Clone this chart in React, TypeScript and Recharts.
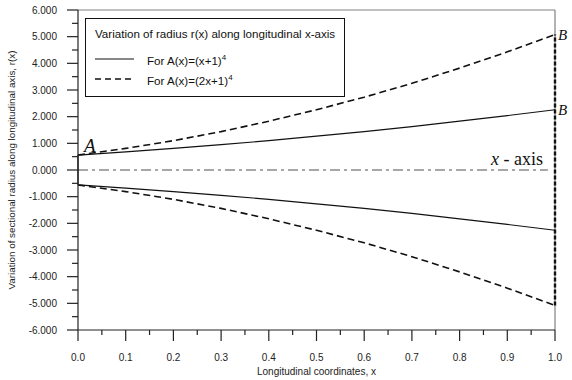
import { LineChart, Line, XAxis, YAxis, ReferenceLine, ReferenceDot, Legend } from 'recharts';

// longitudinal positions
const xs = [0, 0.1, 0.2, 0.3, 0.4, 0.5, 0.6, 0.7, 0.8, 0.9, 1.0];
// A(x)=(x+1)^4 profile, upper and lower edge
const solidUpper = [0.56, 0.68, 0.81, 0.95, 1.10, 1.27, 1.44, 1.63, 1.83, 2.04, 2.26];
const solidLower = [-0.56, -0.68, -0.81, -0.95, -1.10, -1.27, -1.44, -1.63, -1.83, -2.04, -2.26];
// A(x)=(2x+1)^4 profile
const dashUpper = [0.56, 0.81, 1.10, 1.44, 1.83, 2.26, 2.73, 3.25, 3.82, 4.43, 5.08];
const dashLower = [-0.56, -0.81, -1.10, -1.44, -1.83, -2.26, -2.73, -3.25, -3.82, -4.43, -5.08];

const xTicks = [0, 0.05, 0.1, 0.15, 0.2, 0.25, 0.3, 0.35, 0.4, 0.45, 0.5, 0.55, 0.6, 0.65, 0.7, 0.75, 0.8, 0.85, 0.9, 0.95, 1.0];
const yTicks = [-6, -5.5, -5, -4.5, -4, -3.5, -3, -2.5, -2, -1.5, -1, -0.5, 0, 0.5, 1, 1.5, 2, 2.5, 3, 3.5, 4, 4.5, 5, 5.5, 6];

const data = xs.map((x, i) => ({
  x,
  s1: solidUpper[i],
  s2: solidLower[i],
  d1: dashUpper[i],
  d2: dashLower[i],
}));

const SANS = '"Liberation Sans", Arial, sans-serif';
const SERIF = '"Liberation Serif", "Times New Roman", serif';

const XTick = ({ x, y, payload }: any) => {
  const v = payload.value;
  const major = Math.abs(v * 10 - Math.round(v * 10)) < 1e-6;
  return (
    <g>
      <line x1={x} x2={x} y1={y} y2={y + (major ? 11 : 5)} stroke="#222" strokeWidth={1.2} />
      {major && (
        <text x={x} y={y + 31} textAnchor="middle" fontSize={10} fontFamily={SANS} fill="#222">
          {v.toFixed(1)}
        </text>
      )}
    </g>
  );
};

const YTick = ({ x, y, payload }: any) => {
  const v = payload.value;
  const major = Math.abs(v - Math.round(v)) < 1e-6;
  return (
    <g>
      <line x1={x - (major ? 11 : 6)} x2={x} y1={y} y2={y} stroke="#222" strokeWidth={1.2} />
      {major && (
        <text x={x - 21} y={y + 3.5} textAnchor="end" fontSize={10} fontFamily={SANS} fill="#222">
          {v.toFixed(3)}
        </text>
      )}
    </g>
  );
};

const LegendBox = () => (
  <div
    style={{
      width: 260,
      height: 79,
      border: '1px solid #111',
      background: '#fff',
      fontFamily: SANS,
      fontSize: 11.6,
      color: '#111',
      boxSizing: 'border-box',
      padding: '8px 0 0 9px',
      lineHeight: '13px',
    }}
  >
    <div>Variation of radius r(x) along longitudinal x-axis</div>
    <div style={{ display: 'flex', alignItems: 'center', marginTop: 12, height: 13 }}>
      <svg width={39} height={4} style={{ marginRight: 13 }}>
        <line x1={0} x2={39} y1={2} y2={2} stroke="#111" strokeWidth={1.2} />
      </svg>
      <span>
        For A(x)=(x+1)<sup style={{ fontSize: 8, verticalAlign: 5 }}>4</sup>
      </span>
    </div>
    <div style={{ display: 'flex', alignItems: 'center', marginTop: 7, height: 13 }}>
      <svg width={39} height={4} style={{ marginRight: 13 }}>
        <line x1={0} x2={39} y1={2} y2={2} stroke="#111" strokeWidth={1.6} strokeDasharray="6 4" />
      </svg>
      <span>
        For A(x)=(2x+1)<sup style={{ fontSize: 8, verticalAlign: 5 }}>4</sup>
      </span>
    </div>
  </div>
);

const textLabel = (txt: string, dx: number, dy: number, size: number) => (props: any) => {
  const vb = props.viewBox || {};
  const cx = (vb.x || 0) + (vb.width || 0) / 2;
  const cy = (vb.y || 0) + (vb.height || 0) / 2;
  return (
    <text x={cx + dx} y={cy + dy} fontFamily={SERIF} fontStyle="italic" fontSize={size} fill="#111">
      {txt}
    </text>
  );
};

const axisLabel = (props: any) => {
  const vb = props.viewBox || {};
  const cx = (vb.x || 0) + (vb.width || 0) / 2;
  const cy = (vb.y || 0) + (vb.height || 0) / 2;
  return (
    <text x={cx - 12} y={cy - 5} textAnchor="end" fontFamily={SERIF} fontSize={18} fill="#111">
      <tspan fontStyle="italic">x</tspan>
      <tspan> - axis</tspan>
    </text>
  );
};

export default function App() {
  return (
    <div style={{ position: 'absolute', left: 0, top: 0, width: 572, height: 380, background: '#fff' }}>
      <LineChart width={572} height={380} data={data} margin={{ top: 10, right: 17, bottom: 0, left: 0 }}>
        <XAxis
          dataKey="x"
          type="number"
          domain={[0, 1]}
          ticks={xTicks}
          interval={0}
          tickSize={0}
          tickMargin={0}
          tickLine={false}
          tick={<XTick />}
          height={50}
          axisLine={{ stroke: '#222', strokeWidth: 1.2 }}
          label={{ value: 'Longitudinal coordinates, x', position: 'insideBottom', offset: 5, style: { fontFamily: SANS, fontSize: 10, fill: '#222' } }}
        />
        <YAxis
          type="number"
          domain={[-6, 6]}
          ticks={yTicks}
          interval={0}
          tickSize={0}
          tickMargin={0}
          tickLine={false}
          tick={<YTick />}
          width={78}
          axisLine={{ stroke: '#222', strokeWidth: 1.2 }}
          label={{ value: 'Variation of sectional radius along longitudinal axis, r(x)', angle: -90, position: 'insideLeft', offset: 12, style: { textAnchor: 'middle', fontFamily: SANS, fontSize: 9.8, fill: '#222' } }}
        />
        <ReferenceLine y={6} stroke="#808080" strokeWidth={1.2} />
        <ReferenceLine x={1} stroke="#808080" strokeWidth={1.2} />
        <ReferenceLine segment={[{ x: 0, y: 0 }, { x: 0.985, y: 0 }]} stroke="#8a8a8a" strokeWidth={1.6} strokeDasharray="10 4 3 4" />
        <ReferenceLine segment={[{ x: 0, y: solidLower[0] }, { x: 0, y: solidUpper[0] }]} stroke="#111" strokeWidth={1.2} />
        <ReferenceLine segment={[{ x: 1, y: dashLower[10] }, { x: 1, y: dashUpper[10] }]} stroke="#111" strokeWidth={2.4} strokeDasharray="4 2" />
        <Line dataKey="s1" stroke="#111" strokeWidth={1.2} dot={false} isAnimationActive={false} />
        <Line dataKey="s2" stroke="#111" strokeWidth={1.2} dot={false} isAnimationActive={false} />
        <Line dataKey="d1" stroke="#111" strokeWidth={1.6} strokeDasharray="7 4" dot={false} isAnimationActive={false} />
        <Line dataKey="d2" stroke="#111" strokeWidth={1.6} strokeDasharray="7 4" dot={false} isAnimationActive={false} />
        <ReferenceDot x={0} y={solidUpper[0]} r={0} stroke="none" fill="none" label={textLabel('A', 6, -3, 19)} />
        <ReferenceDot x={1} y={dashUpper[10]} r={0} stroke="none" fill="none" label={textLabel('B', 3, 5, 15)} />
        <ReferenceDot x={1} y={solidUpper[10]} r={0} stroke="none" fill="none" label={textLabel('B', 3, 5, 15)} />
        <ReferenceDot x={1} y={0} r={0} stroke="none" fill="none" label={axisLabel} />
        <Legend
          layout="horizontal"
          verticalAlign="middle"
          align="center"
          wrapperStyle={{ top: 18, left: 85, width: 260 }}
          content={<LegendBox />}
        />
      </LineChart>
    </div>
  );
}
